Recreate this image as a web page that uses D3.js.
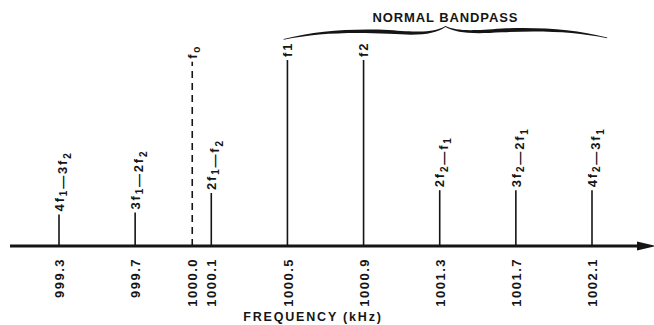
<!DOCTYPE html>
<html>
<head>
<meta charset="utf-8">
<script src="https://cdn.jsdelivr.net/npm/d3@7"></script>
<style>
  html, body { margin: 0; padding: 0; background: #fff; }
  svg { display: block; }
  text { font-family: "Liberation Sans", Arial, sans-serif; font-weight: bold; fill: #151515; }
</style>
</head>
<body>
<svg id="chart" width="654" height="325"></svg>
<script>
// Spectrum of two tones f1, f2 and their intermodulation products around 1000 kHz
const frequencies = [999.3, 999.7, 1000.0, 1000.1, 1000.5, 1000.9, 1001.3, 1001.7, 1002.1];
const tickLabels = ["999.3", "999.7", "1000.0", "1000.1", "1000.5", "1000.9", "1001.3", "1001.7", "1002.1"];
// relative amplitude of each spectral line (1 = level of the two tones)
const amplitudes = [0.17, 0.18, 0.99, 0.285, 1.0, 1.0, 0.30, 0.30, 0.30];
// component names; "_" marks the following character as a subscript
const componentNames = ["4f_1—3f_2", "3f_1—2f_2", "f_o", "2f_1—f_2", "f1", "f2", "2f_2—f_1", "3f_2—2f_1", "4f_2—3f_1"];
const dashedComponents = ["f_o"];
const bandpass = [1000.48, 1002.18];
const bandpassLabel = "NORMAL BANDPASS";
const axisTitle = "FREQUENCY (kHz)";

const W = 654, H = 325;
const axisY = 246;
const svg = d3.select("#chart");

const x = d3.scaleLinear().domain([999.3, 1002.1]).range([59, 592]);
const y = d3.scaleLinear().domain([0, 1]).range([axisY, 60]);

const ink = "#151515";

// spectral lines
const comps = frequencies.map((f, i) => ({ f, a: amplitudes[i], name: componentNames[i] }));

svg.append("g").selectAll("line")
  .data(comps)
  .join("line")
  .attr("x1", d => x(d.f)).attr("x2", d => x(d.f))
  .attr("y1", y(0)).attr("y2", d => y(d.a))
  .attr("stroke", ink)
  .attr("stroke-width", 1.6)
  .attr("stroke-dasharray", d => dashedComponents.includes(d.name) ? "7,5" : null);

// frequency axis with arrow
svg.append("line")
  .attr("x1", 10).attr("x2", 642)
  .attr("y1", axisY).attr("y2", axisY)
  .attr("stroke", ink).attr("stroke-width", 3.2);
svg.append("path")
  .attr("d", d3.line()([[637, axisY - 4.5], [656, axisY], [637, axisY + 4.5]]) + "Z")
  .attr("fill", ink);

// tick labels, written upward below the axis
const axis = d3.axisBottom(x)
  .tickValues(frequencies)
  .tickFormat((d, i) => tickLabels[i])
  .tickSize(0)
  .tickPadding(0);
const gAxis = svg.append("g")
  .attr("transform", `translate(0,${axisY})`)
  .call(axis);
gAxis.select(".domain").remove();
gAxis.attr("font-family", null).attr("font-size", null);
gAxis.selectAll("text")
  .attr("transform", "rotate(-90)")
  .attr("x", -12).attr("y", 0)
  .attr("dy", "0.36em")
  .style("text-anchor", "end")
  .style("font-size", "13px")
  .style("letter-spacing", "1.5px")
  .attr("fill", ink);

// component name labels above each line
function addName(sel, name) {
  let sub = false;
  for (let i = 0; i < name.length; i++) {
    const ch = name[i];
    if (ch === "_") { sub = true; continue; }
    const t = sel.append("tspan").text(ch);
    if (sub) {
      t.attr("dy", 3.5).style("font-size", "10px");
      // return to the baseline on the next character
      sel.append("tspan").attr("dy", -3.5).text("");
      sub = false;
    }
  }
}

svg.append("g").selectAll("text")
  .data(comps)
  .join("text")
  .attr("transform", d => `translate(${x(d.f)},${y(d.a) - 3}) rotate(-90)`)
  .attr("dy", "0.36em")
  .style("font-size", "13px")
  .style("letter-spacing", "1.8px")
  .style("text-anchor", "start")
  .each(function (d) { addName(d3.select(this), d.name); });

// brace spanning the normal bandpass
function braceHalf(p, xe, xc, yEnd, yTip) {
  const L = xc - xe;
  p.moveTo(xe, yEnd);
  p.bezierCurveTo(xe + 0.2 * L, yEnd - 8, xe + 0.4 * L, yEnd - 10.5, xe + 0.65 * L, yEnd - 9);
  p.bezierCurveTo(xe + 0.85 * L, yEnd - 6.5, xe + 0.93 * L, yEnd - 6.5, xc, yTip);
  p.lineTo(xc, yTip + 1);
  p.bezierCurveTo(xe + 0.93 * L, yEnd - 4.6, xe + 0.85 * L, yEnd - 3.2, xe + 0.65 * L, yEnd - 5.2);
  p.bezierCurveTo(xe + 0.4 * L, yEnd - 7, xe + 0.2 * L, yEnd - 5.8, xe, yEnd + 0.8);
  p.closePath();
}
const bx0 = x(bandpass[0]), bx1 = x(bandpass[1]);
const bxc = (bx0 + bx1) / 2;
const bp = d3.path();
braceHalf(bp, bx0, bxc, 39, 26);
braceHalf(bp, bx1, bxc, 37.5, 26);
svg.append("path").attr("d", bp.toString()).attr("fill", ink);

svg.append("text")
  .attr("x", bxc).attr("y", 22)
  .style("text-anchor", "middle")
  .style("font-size", "13px")
  .style("letter-spacing", "0.9px")
  .text(bandpassLabel);

// axis title
svg.append("text")
  .attr("x", 313).attr("y", 321)
  .style("text-anchor", "middle")
  .style("font-size", "12.5px")
  .style("letter-spacing", "1.8px")
  .text(axisTitle);
</script>
</body>
</html>
